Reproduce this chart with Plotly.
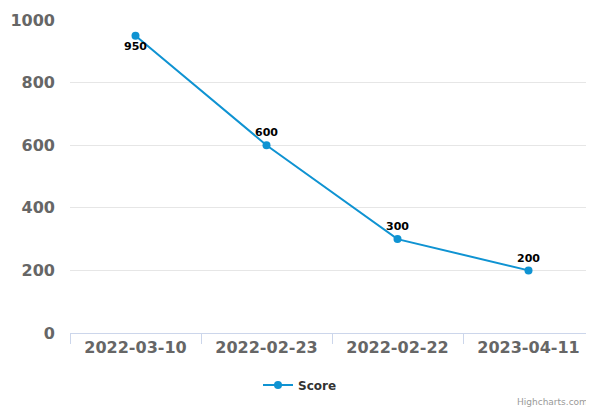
import plotly.graph_objects as go

categories = ["2022-03-10", "2022-02-23", "2022-02-22", "2023-04-11"]
scores = [950, 600, 300, 200]
label_positions = ["bottom center", "top center", "top center", "top center"]
y_ticks = [0, 200, 400, 600, 800, 1000]

W, H = 586, 399
PLOT_H = 313

fig = go.Figure()
fig.add_trace(go.Scatter(
    x=categories, y=scores, name="Score", mode="lines+markers+text",
    text=[str(v) for v in scores], textposition=label_positions,
    textfont=dict(family="DejaVu Sans", size=11, color="#000000", weight="bold"),
    line=dict(color="#0f93d2", width=2),
    marker=dict(color="#0f93d2", size=8),
    cliponaxis=False,
))

fig.update_layout(
    width=W, height=H,
    margin=dict(l=62, r=0, t=12, b=74),
    plot_bgcolor="#ffffff", paper_bgcolor="#ffffff",
    font=dict(family="DejaVu Sans"),
    showlegend=True,
    legend=dict(orientation="h", x=250 / W, xref="container", xanchor="left",
                y=1 - 377 / H, yref="container", yanchor="middle",
                font=dict(size=12, color="#333333", weight="bold")),
    xaxis=dict(type="category", showgrid=False, showline=True, linecolor="#ccd6eb",
               linewidth=1, ticks="outside", tickson="boundaries", ticklen=10,
               tickcolor="#ccd6eb", range=[-0.5, 3.5],
               tickfont=dict(size=16, color="#666666", weight="bold")),
    yaxis=dict(range=[0, 1000], tickvals=y_ticks, showgrid=True, gridcolor="#e6e6e6",
               zeroline=False, showline=False, ticks="", ticklabelstandoff=14,
               tickfont=dict(size=16, color="#666666", weight="bold")),
    annotations=[dict(text="Highcharts.com", xref="paper", yref="paper", x=1,
                      y=-(394 - (12 + PLOT_H)) / PLOT_H, xshift=-4,
                      xanchor="right", yanchor="middle", showarrow=False,
                      font=dict(size=9, color="#999999"))],
)

fig.write_html("out.html")
